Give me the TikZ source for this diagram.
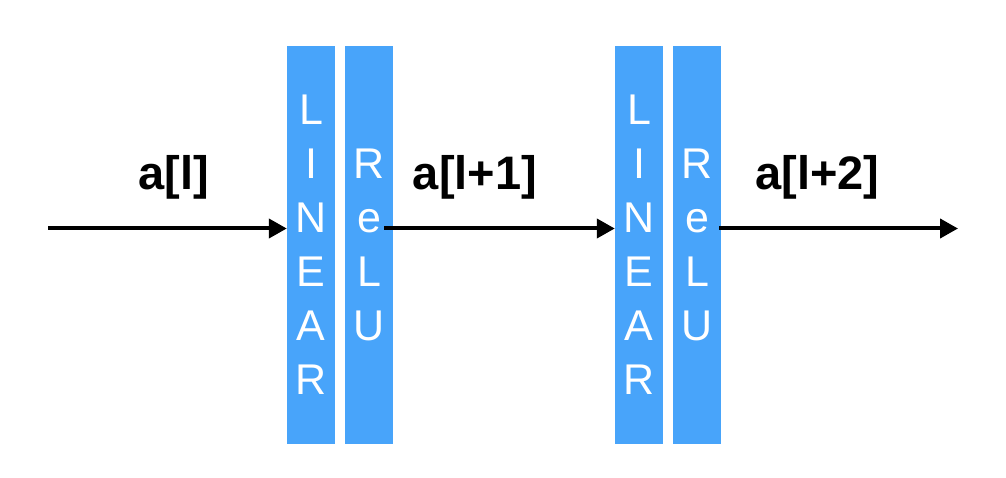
\documentclass[tikz,border=0pt]{standalone}
\usepackage{fontspec}
\setmainfont{Liberation Sans}
\usetikzlibrary{arrows.meta}
\definecolor{barblue}{RGB}{72,164,250}
\tikzset{
  barbox/.style={fill=barblue, draw=none, minimum width=48pt, minimum height=397pt,
    inner sep=0pt, align=center, text=white, font=\fontsize{43}{54}\selectfont},
  lbl/.style={anchor=base, inner sep=0pt, font=\fontsize{47}{56}\selectfont\bfseries},
  arr/.style={line width=4pt, -{Triangle[length=18pt,width=19pt]}}
}
\begin{document}
\begin{tikzpicture}[x=1pt,y=-1pt]
\useasboundingbox (0,0) rectangle (1006,478);
\node[barbox] (lin1) at (311,245) {L\\I\\N\\E\\A\\R};
\node[barbox] (relu1) at (369,245) {R\\e\\L\\U};
\node[barbox] (lin2) at (639,245) {L\\I\\N\\E\\A\\R};
\node[barbox] (relu2) at (697,245) {R\\e\\L\\U};
\node[lbl] (l0) at (174,190) {a[l]};
\node[lbl] (l1) at (475,190) {a[l+1]};
\node[lbl] (l2) at (817.5,190) {a[l+2]};
\coordinate (in) at (48,228.5);
\coordinate (o1) at (384,228.5);
\coordinate (o2) at (719,228.5);
\coordinate (out) at (958,228.5);
\draw[arr] (in) -- (in -| lin1.west);
\draw[arr] (o1) -- (o1 -| lin2.west);
\draw[arr] (o2) -- (out);
\end{tikzpicture}
\end{document}
